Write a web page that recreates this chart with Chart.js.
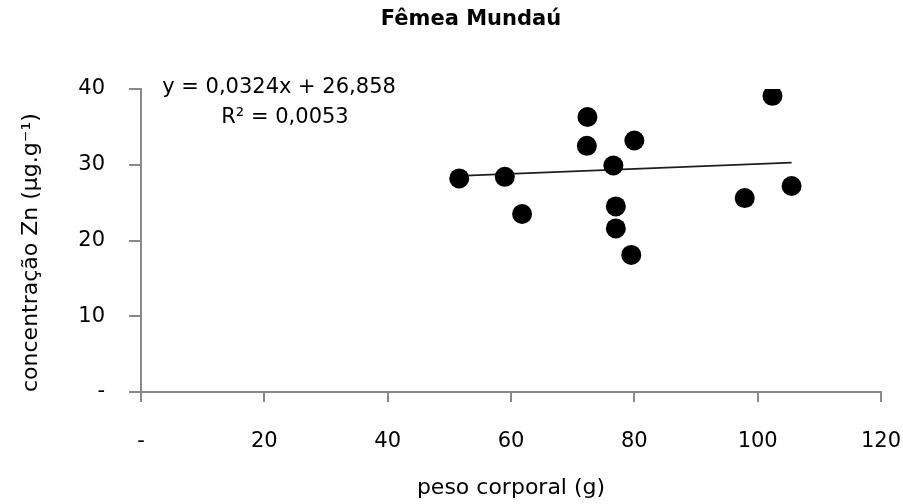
<!DOCTYPE html>
<html lang="pt">
<head>
<meta charset="utf-8">
<title>Fêmea Mundaú</title>
<script src="https://cdn.jsdelivr.net/npm/chart.js@4.4.1/dist/chart.umd.min.js"></script>
<style>
  html, body { margin: 0; padding: 0; background: #fff; }
  #wrap { width: 903px; height: 504px; }
</style>
</head>
<body>
<div id="wrap"><canvas id="grafico" width="903" height="504"></canvas></div>
<script>
// Peso corporal (g) e concentração de Zn (µg.g-1) das fêmeas de Mundaú
const pesoCorporal   = [51.6, 59.0, 61.8, 72.4, 72.3, 76.6, 80.0, 77.0, 77.0, 79.5, 102.4, 97.9, 105.5];
const concentracaoZn = [28.2, 28.4, 23.5, 36.3, 32.5, 29.9, 33.2, 24.5, 21.6, 18.1, 39.1, 25.6, 27.2];

// Regressão linear informada no gráfico
const inclinacao = 0.0324;
const intercepto = 26.858;
const textoEquacao = 'y = 0,0324x + 26,858';
const textoR2 = 'R² = 0,0053';

const titulo = 'Fêmea Mundaú';
const tituloX = 'peso corporal (g)';
const tituloY = 'concentração Zn (µg.g⁻¹)';

const FONTE = "'DejaVu Sans', sans-serif";
const CINZA = '#898989';

const pontos = pesoCorporal.map((x, i) => ({ x, y: concentracaoZn[i] }));
const xMin = Math.min(...pesoCorporal);
const xMax = Math.max(...pesoCorporal);
const linhaTendencia = [xMin, xMax].map(x => ({ x, y: inclinacao * x + intercepto }));

const rotuloTick = v => (v === 0 ? '-' : v);

// Título e equação da reta desenhados sobre o gráfico
const textos = {
  id: 'textos',
  afterDraw(chart) {
    const ctx = chart.ctx;
    ctx.save();
    ctx.fillStyle = '#000';
    ctx.textAlign = 'center';
    ctx.textBaseline = 'middle';
    ctx.font = "bold 21px " + FONTE;
    ctx.fillText(titulo, 471, 20);
    ctx.font = "21px " + FONTE;
    ctx.fillText(textoEquacao, 279, 88);
    ctx.fillText(textoR2, 285, 118);
    ctx.restore();
  }
};

new Chart(document.getElementById('grafico'), {
  type: 'scatter',
  data: {
    datasets: [
      {
        label: 'Zn',
        data: pontos,
        pointRadius: 10,
        pointHoverRadius: 10,
        backgroundColor: '#000',
        borderWidth: 0,
        order: 1
      },
      {
        label: 'Linear',
        type: 'line',
        data: linhaTendencia,
        borderColor: '#1e1e1e',
        borderWidth: 1.6,
        pointRadius: 0,
        fill: false,
        order: 2
      }
    ]
  },
  options: {
    responsive: false,
    animation: false,
    devicePixelRatio: 1,
    layout: { padding: { top: 89, right: 22, left: 0, bottom: 0 } },
    plugins: {
      legend: { display: false },
      tooltip: { enabled: false },
      title: { display: false }
    },
    scales: {
      x: {
        type: 'linear',
        position: 'bottom',
        min: 0,
        max: 120,
        ticks: {
          stepSize: 20,
          padding: 27,
          color: '#000',
          maxRotation: 0,
          font: { family: FONTE, size: 21 },
          callback: rotuloTick
        },
        grid: { drawOnChartArea: false, drawTicks: true, tickLength: 10, color: CINZA, lineWidth: 2 },
        border: { color: CINZA, width: 2 },
        title: {
          display: true,
          text: tituloX,
          color: '#000',
          font: { family: FONTE, size: 22 },
          padding: { top: 0, bottom: 3 }
        },
        afterFit(scale) {
          scale.height = 112;
          scale.paddingLeft = 0;
          scale.paddingRight = 0;
        }
      },
      y: {
        type: 'linear',
        min: 0,
        max: 40,
        ticks: {
          stepSize: 10,
          padding: 24,
          color: '#000',
          font: { family: FONTE, size: 21 },
          callback: rotuloTick
        },
        grid: { drawOnChartArea: false, drawTicks: true, tickLength: 12, color: CINZA, lineWidth: 2 },
        border: { color: CINZA, width: 2 },
        title: {
          display: true,
          text: tituloY,
          align: 'start',
          color: '#000',
          font: { family: FONTE, size: 22 },
          padding: { top: 18, bottom: 0 }
        },
        afterFit(scale) { scale.width = 141; }
      }
    }
  },
  plugins: [textos]
});
</script>
</body>
</html>
